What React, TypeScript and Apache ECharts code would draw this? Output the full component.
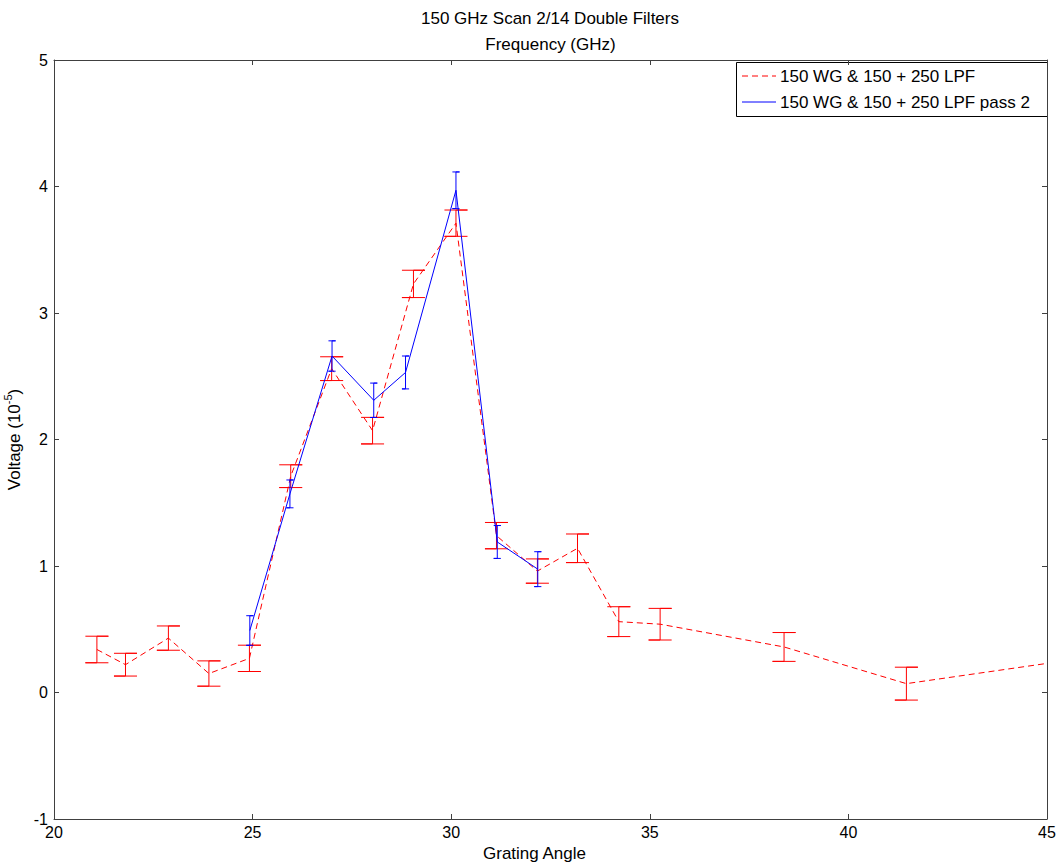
import React, { useEffect, useRef } from "react";
import * as echarts from "echarts";

// ---- data ----
const chartTitle = "150 GHz Scan 2/14 Double Filters";
const topAxisName = "Frequency (GHz)";
const xAxisName = "Grating Angle";
const seriesNames = ["150 WG & 150 + 250 LPF", "150 WG & 150 + 250 LPF pass 2"];

const xMin = 20;
const xMax = 45;
const xStep = 5;
const yMin = -1;
const yMax = 5;
const yStep = 1;

// series 1 (red dashed)
const redX = [21.08, 21.8, 22.88, 23.9, 24.92, 25.96, 26.99, 28.02, 29.05, 30.12, 31.14, 32.17, 33.18, 34.22, 35.26, 38.38, 41.46, 45.0];
const redY = [0.34, 0.22, 0.43, 0.15, 0.27, 1.71, 2.56, 2.07, 3.23, 3.71, 1.24, 0.96, 1.14, 0.56, 0.54, 0.36, 0.07, 0.23];
const redErr = [0.105, 0.09, 0.096, 0.1, 0.104, 0.09, 0.094, 0.105, 0.108, 0.104, 0.104, 0.096, 0.113, 0.118, 0.125, 0.114, 0.13, 0];

// series 2 (blue solid)
const blueX = [24.93, 25.94, 27.0, 28.05, 28.85, 30.12, 31.16, 32.18];
const blueY = [0.49, 1.57, 2.66, 2.31, 2.53, 3.97, 1.19, 0.975];
const blueErr = [0.117, 0.11, 0.12, 0.136, 0.13, 0.145, 0.13, 0.138];

const RED = "#ff0000";
const BLUE = "#0000ff";
const AXIS = "#404040";
const FONT = "Liberation Sans, Arial, sans-serif";

// error bar cap half-widths, in x-axis units
const RED_CAP = 0.29;
const BLUE_CAP = 0.09;

function errorBarData(xs: number[], ys: number[], es: number[], cap: number) {
  const out: any[] = [];
  xs.forEach((x, i) => {
    const e = es[i];
    if (!(e > 0)) return;
    const hi = ys[i] + e;
    const lo = ys[i] - e;
    out.push([x - cap, hi], [x + cap, hi], [x, hi], [x, lo], [x - cap, lo], [x + cap, lo], "-");
  });
  return out;
}

export default function App() {
  const ref = useRef<HTMLDivElement>(null);

  useEffect(() => {
    if (!ref.current) return;
    const chart = echarts.init(ref.current, null, { renderer: "svg" });
    const axisLine = { show: true, onZero: false, lineStyle: { color: AXIS, width: 1 } };
    const tick = { show: true, inside: true, length: 5, lineStyle: { color: AXIS } };
    const labelStyle = { color: "#000", fontSize: 16, fontFamily: FONT };

    // legend box geometry (drawn as graphic)
    const lgL = 736;
    const lgT = 62;
    const lgW = 311;
    const lgH = 54;

    chart.setOption({
      animation: false,
      backgroundColor: "#ffffff",
      textStyle: { fontFamily: FONT },
      grid: { left: 54, right: 13, top: 60, bottom: 44, containLabel: false, outerBoundsMode: "none" },
      graphic: [
        {
          type: "text",
          x: 550,
          y: 18,
          style: {
            text: chartTitle,
            fill: "#000",
            font: `17px ${FONT}`,
            textAlign: "center",
            textVerticalAlign: "middle",
          },
        },
        {
          type: "group",
          z: 100,
          children: [
            {
              type: "rect",
              shape: { x: lgL + 0.5, y: lgT + 0.5, width: lgW, height: lgH },
              style: { fill: "#fff", stroke: "#000", lineWidth: 1 },
            },
            {
              type: "line",
              shape: { x1: lgL + 6, y1: lgT + 14, x2: lgL + 40, y2: lgT + 14 },
              style: { stroke: RED, lineWidth: 1, lineDash: [6, 4] },
            },
            {
              type: "text",
              x: lgL + 44,
              y: lgT + 14,
              style: { text: seriesNames[0], fill: "#000", font: `17px ${FONT}`, textVerticalAlign: "middle" },
            },
            {
              type: "line",
              shape: { x1: lgL + 6, y1: lgT + 40, x2: lgL + 40, y2: lgT + 40 },
              style: { stroke: BLUE, lineWidth: 1 },
            },
            {
              type: "text",
              x: lgL + 44,
              y: lgT + 40,
              style: { text: seriesNames[1], fill: "#000", font: `17px ${FONT}`, textVerticalAlign: "middle" },
            },
          ],
        },
      ],
      xAxis: [
        {
          type: "value",
          min: xMin,
          max: xMax,
          interval: xStep,
          position: "bottom",
          name: xAxisName,
          nameLocation: "middle",
          nameGap: 25,
          nameTextStyle: { color: "#000", fontSize: 17, fontFamily: FONT, padding: [0, 32, 0, 0] },
          axisLine,
          axisTick: tick,
          axisLabel: { ...labelStyle, margin: 5 },
          splitLine: { show: false },
        },
        {
          type: "value",
          min: xMin,
          max: xMax,
          interval: xStep,
          position: "top",
          name: topAxisName,
          nameLocation: "middle",
          nameGap: 7,
          nameTextStyle: { color: "#000", fontSize: 17, fontFamily: FONT },
          axisLine,
          axisTick: tick,
          axisLabel: { show: false },
          splitLine: { show: false },
        },
      ],
      yAxis: [
        {
          type: "value",
          min: yMin,
          max: yMax,
          interval: yStep,
          position: "left",
          name: "{n|Voltage (10}{sup|-5}{n|)}",
          nameLocation: "middle",
          nameGap: 19,
          nameTextStyle: {
            color: "#000",
            fontSize: 17,
            fontFamily: FONT,
            rich: {
              n: { fontSize: 17, fontFamily: FONT, color: "#000", lineHeight: 20, verticalAlign: "bottom" },
              sup: { fontSize: 11, fontFamily: FONT, color: "#000", lineHeight: 20, verticalAlign: "top" },
            },
          },
          axisLine,
          axisTick: tick,
          axisLabel: { ...labelStyle, margin: 6 },
          splitLine: { show: false },
        },
        {
          type: "value",
          min: yMin,
          max: yMax,
          interval: yStep,
          position: "right",
          axisLine,
          axisTick: tick,
          axisLabel: { show: false },
          splitLine: { show: false },
        },
      ],
      series: [
        {
          type: "line",
          name: seriesNames[0],
          data: redX.map((x, i) => [x, redY[i]]),
          symbol: "none",
          silent: true,
          lineStyle: { color: RED, width: 1, type: [6, 4] },
          itemStyle: { color: RED },
          z: 2,
        },
        {
          type: "line",
          name: "redErrorBars",
          data: errorBarData(redX, redY, redErr, RED_CAP),
          symbol: "none",
          silent: true,
          connectNulls: false,
          lineStyle: { color: RED, width: 1, type: "solid" },
          itemStyle: { color: RED },
          z: 2,
        },
        {
          type: "line",
          name: seriesNames[1],
          data: blueX.map((x, i) => [x, blueY[i]]),
          symbol: "none",
          silent: true,
          lineStyle: { color: BLUE, width: 1, type: "solid" },
          itemStyle: { color: BLUE },
          z: 3,
        },
        {
          type: "line",
          name: "blueErrorBars",
          data: errorBarData(blueX, blueY, blueErr, BLUE_CAP),
          symbol: "none",
          silent: true,
          connectNulls: false,
          lineStyle: { color: BLUE, width: 1, type: "solid" },
          itemStyle: { color: BLUE },
          z: 3,
        },
      ],
    });
    return () => chart.dispose();
  }, []);

  return (
    <div
      ref={ref}
      style={{ position: "absolute", left: 0, top: 0, width: 1060, height: 863, background: "#fff" }}
    />
  );
}
